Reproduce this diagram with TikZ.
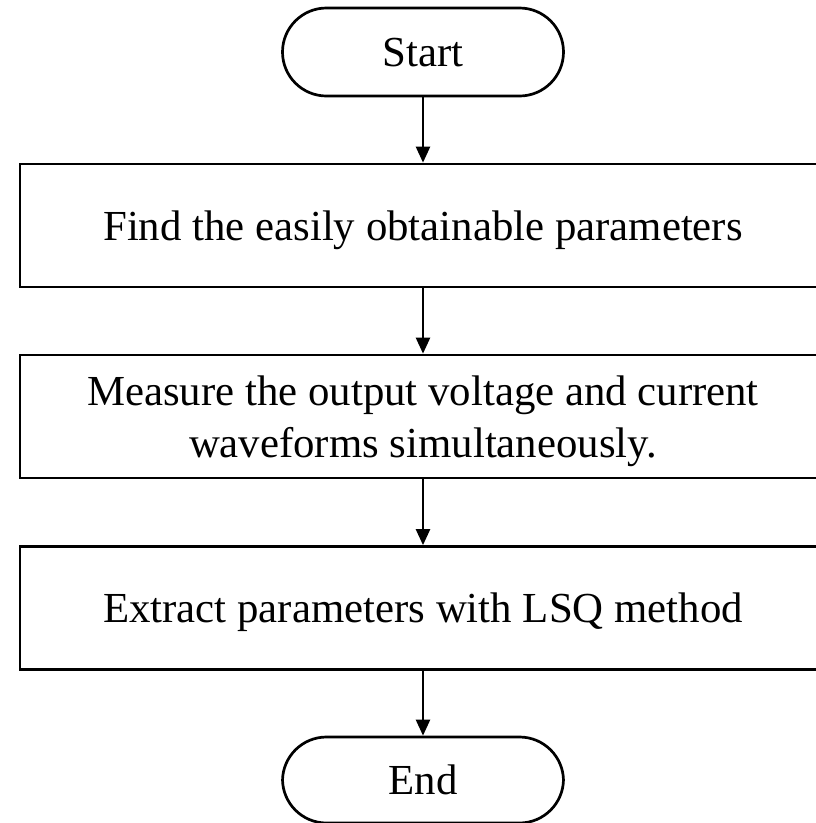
\documentclass[tikz,border=0pt]{standalone}
\usepackage{fontspec}
\setmainfont{Liberation Serif}
\usetikzlibrary{arrows.meta}

\tikzset{
  term/.style={shape=rectangle, rounded corners=44pt, draw=black, line width=2.7pt,
    minimum width=281pt, minimum height=88pt, inner sep=0pt, text depth=0pt},
  procbox/.style={shape=rectangle, draw=black, line width=2.7pt,
    minimum width=806pt, minimum height=123pt, inner sep=0pt, align=center, text depth=0pt},
  flow/.style={-{Triangle[length=16pt,width=14pt]}, line width=2.4pt}
}

\begin{document}
\begin{tikzpicture}[x=1pt, y=-1pt, font=\fontsize{42.8}{52}\selectfont]
\useasboundingbox (0,0) rectangle (815,823);

\node [term] (start) at (423,52) {Start};
\node [procbox] (find) at (423,225.5) {Find the easily obtainable parameters};
\node [procbox] (measure) at (423,416.5) {Measure the output voltage and current\\waveforms simultaneously.};
\node [procbox] (extract) at (423,608) {Extract parameters with LSQ method};
\node [term, minimum height=86pt] (end) at (423,780) {End};

\draw [flow] (start) -- (find);
\draw [flow] (find) -- (measure);
\draw [flow] (measure) -- (extract);
\draw [flow] (extract) -- (end);
\end{tikzpicture}
\end{document}
